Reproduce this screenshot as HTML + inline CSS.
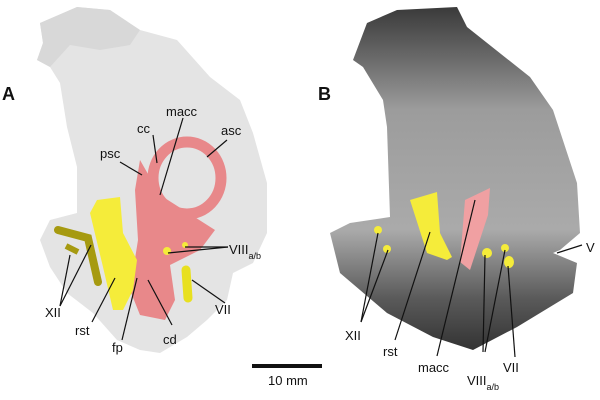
<!DOCTYPE html>
<html><head><style>body{margin:0;background:#fff}svg{display:block}text{font-family:"Liberation Sans",sans-serif;font-size:13px;fill:#111}</style></head><body>
<svg width="600" height="400" viewBox="0 0 600 400">
<defs>
<linearGradient id="gb" x1="0" y1="0" x2="0" y2="1">
<stop offset="0" stop-color="#3a3a3a"/><stop offset="0.15" stop-color="#6a6a6a"/><stop offset="0.3" stop-color="#9c9c9c"/><stop offset="0.65" stop-color="#aaaaaa"/><stop offset="0.85" stop-color="#5a5a5a"/><stop offset="1" stop-color="#333"/></linearGradient>
</defs>
<polygon fill="#e4e4e4" points="40,23 77,7 110,10 140,30 177,40 210,77 240,100 253,133 267,183 267,233 253,263 233,273 227,300 207,320 187,337 160,353 140,350 117,340 93,313 67,293 50,267 40,240 50,220 77,213 77,167 67,127 60,83 50,67 37,60 43,43"/>
<polygon fill="#d8d8d8" points="40,23 77,7 110,10 140,30 130,45 100,50 70,45 50,67 37,60 43,43"/>
<polygon fill="url(#gb)" points="367,23 397,10 457,7 467,27 530,77 553,110 577,183 580,233 560,250 553,253 577,263 573,293 517,327 473,350 433,337 387,313 340,273 330,233 350,223 390,217 387,127 383,100 363,67 353,60"/>
<!-- A pink -->
<ellipse cx="187" cy="178" rx="34" ry="36" fill="none" stroke="#e8888a" stroke-width="11"/>
<polygon fill="#e8888a" points="140,160 160,195 215,230 200,250 170,265 175,300 165,320 140,315 130,290 138,240 135,190"/>
<!-- A yellow -->
<polygon fill="#f5ec3a" points="97,200 120,197 123,233 137,260 133,290 123,310 113,310 103,267 90,213"/>
<polyline points="58,230 88,238 98,282" fill="none" stroke="#a69a10" stroke-width="8" stroke-linecap="round"/>
<line x1="66" y1="246" x2="78" y2="252" stroke="#a69a10" stroke-width="6"/>
<line x1="186" y1="270" x2="188" y2="298" stroke="#e8e020" stroke-width="9" stroke-linecap="round"/>
<circle cx="167" cy="251" r="4" fill="#f5ec3a"/><circle cx="185" cy="245" r="3" fill="#f5ec3a"/>
<!-- B -->
<polygon fill="#f5ec3a" points="410,200 437,192 440,233 452,257 447,260 427,253"/>
<polygon fill="#f0a0a2" points="465,200 490,188 488,215 470,270 460,262"/>
<circle cx="378" cy="230" r="4" fill="#f5ec3a"/><circle cx="387" cy="249" r="4" fill="#f5ec3a"/>
<circle cx="487" cy="253" r="5" fill="#f5ec3a"/><circle cx="505" cy="248" r="4" fill="#f5ec3a"/><ellipse cx="509" cy="262" rx="5" ry="6" fill="#f5ec3a"/>
<g stroke="#111" stroke-width="1.2">
<line x1="153" y1="135" x2="157" y2="163"/><line x1="183" y1="118" x2="160" y2="195"/><line x1="227" y1="140" x2="207" y2="157"/><line x1="120" y1="162" x2="142" y2="175"/>
<line x1="228" y1="247" x2="185" y2="247"/><line x1="228" y1="247" x2="168" y2="253"/>
<line x1="60" y1="306" x2="70" y2="255"/><line x1="60" y1="306" x2="91" y2="245"/>
<line x1="92" y1="322" x2="115" y2="278"/><line x1="122" y1="340" x2="137" y2="278"/><line x1="172" y1="325" x2="148" y2="280"/><line x1="225" y1="303" x2="192" y2="280"/>
<line x1="361" y1="322" x2="378" y2="233"/><line x1="361" y1="322" x2="388" y2="250"/><line x1="395" y1="340" x2="430" y2="232"/><line x1="437" y1="356" x2="475" y2="200"/>
<line x1="483" y1="352" x2="485" y2="255"/><line x1="485" y1="352" x2="505" y2="250"/><line x1="515" y1="357" x2="508" y2="266"/><line x1="582" y1="245" x2="557" y2="253"/>
</g>
<rect x="252" y="364" width="70" height="4" fill="#111"/>
<text x="268" y="385" font-size="12">10 mm</text>
<text x="2" y="100" style="font-size:18px;font-weight:bold">A</text>
<text x="318" y="100" style="font-size:18px;font-weight:bold">B</text>
<text x="137" y="133">cc</text><text x="166" y="116">macc</text><text x="221" y="135">asc</text><text x="100" y="158">psc</text>
<text x="229" y="254">VIII<tspan style="font-size:9px" dy="5">a/b</tspan></text>
<text x="45" y="317">XII</text><text x="75" y="335">rst</text><text x="112" y="352">fp</text><text x="163" y="344">cd</text><text x="215" y="314">VII</text>
<text x="345" y="340">XII</text><text x="383" y="356">rst</text><text x="418" y="372">macc</text>
<text x="467" y="385">VIII<tspan style="font-size:9px" dy="5">a/b</tspan></text><text x="503" y="372">VII</text><text x="586" y="252">V</text>
</svg>
</body></html>
